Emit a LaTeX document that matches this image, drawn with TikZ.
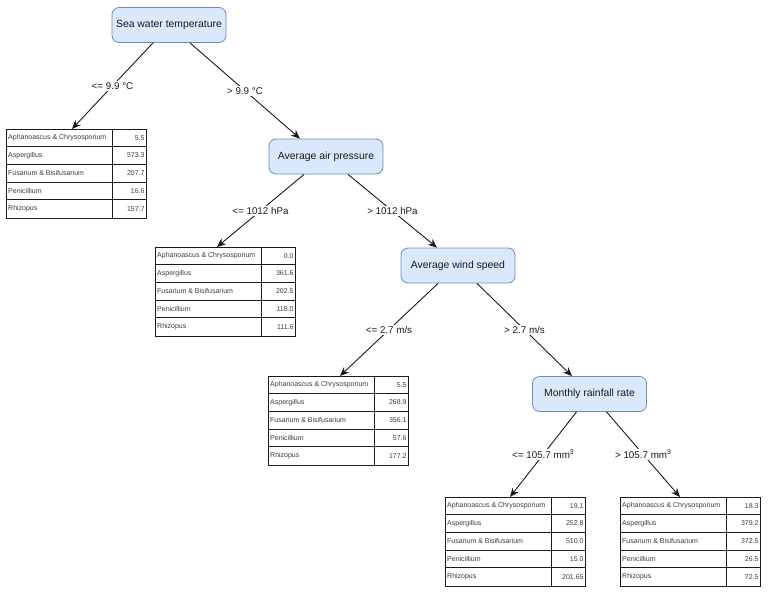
\documentclass[tikz,border=0pt]{standalone}
\usepackage{fontspec}
\setmainfont{Liberation Sans}
\usetikzlibrary{arrows.meta,calc}
\definecolor{boxfill}{HTML}{DAE8FC}
\definecolor{boxdraw}{HTML}{6C8EBF}
\definecolor{ink}{HTML}{1A1A1A}
\tikzset{
  decision/.style={draw=boxdraw, fill=boxfill, rounded corners=7pt, minimum width=114pt,
    minimum height=35pt, font=\fontsize{10.4}{12}\selectfont, text=ink, inner sep=0pt, line width=0.8pt},
  edge/.style={-{Stealth[length=9pt,width=7.5pt]}, line width=0.9pt, draw=ink},
  elabel/.style={fill=white, font=\fontsize{9.8}{11}\selectfont, text=ink, inner sep=1.5pt},
  tabframe/.style={draw=ink, line width=0.8pt, minimum width=140pt, minimum height=88.5pt,
    anchor=north west, inner sep=0pt},
  rule/.style={draw=ink, line width=0.8pt},
  celltext/.style={font=\fontsize{7}{8}\selectfont, text=ink!85, inner sep=0pt},
}
% #1 name, #2 x, #3 y, #4-#8 values
\newcommand\leaftab[8]{%
  \node[tabframe] (#1) at (#2,#3) {};
  \draw[rule] ($(#1.north west)+(106,0)$) -- ($(#1.south west)+(106,0)$);
  \foreach \k in {1,2,3,4}{\draw[rule] ($(#1.north west)+(0,17.7*\k)$) -- ($(#1.north east)+(0,17.7*\k)$);}
  \node[celltext, anchor=west] (#1-a) at ($(#1.north west)+(2,8.85)$) {Aphanoascus \& Chrysosporium};
  \node[celltext, anchor=west] (#1-b) at ($(#1.north west)+(2,26.55)$) {Aspergillus};
  \node[celltext, anchor=west] (#1-c) at ($(#1.north west)+(2,44.25)$) {Fusarium \& Bisifusarium};
  \node[celltext, anchor=west] (#1-d) at ($(#1.north west)+(2,61.95)$) {Penicillium};
  \node[celltext, anchor=west] (#1-e) at ($(#1.north west)+(2,79.65)$) {Rhizopus};
  \node[celltext, anchor=east] (#1-va) at ($(#1.north east)+(-2,8.85)$) {#4};
  \node[celltext, anchor=east] (#1-vb) at ($(#1.north east)+(-2,26.55)$) {#5};
  \node[celltext, anchor=east] (#1-vc) at ($(#1.north east)+(-2,44.25)$) {#6};
  \node[celltext, anchor=east] (#1-vd) at ($(#1.north east)+(-2,61.95)$) {#7};
  \node[celltext, anchor=east] (#1-ve) at ($(#1.north east)+(-2,79.65)$) {#8};
}
\begin{document}
\begin{tikzpicture}[x=1pt,y=-1pt]
\useasboundingbox[fill=white] (0,0) rectangle (768,594);

\node[decision] (n1) at (169,25) {Sea water temperature};
\node[decision] (n2) at (326,156.5) {Average air pressure};
\node[decision] (n3) at (458,265.5) {Average wind speed};
\node[decision] (n4) at (589.5,394) {Monthly rainfall rate};

\leaftab{t1}{6}{129}{5.5}{573.3}{207.7}{16.6}{157.7}
\leaftab{t2}{155}{247}{0.0}{361.6}{202.5}{118.0}{111.6}
\leaftab{t3}{268}{376}{5.5}{268.9}{356.1}{57.6}{177.2}
\leaftab{t4}{445}{497}{19.1}{252.8}{510.0}{15.0}{201.65}
\leaftab{t5}{620}{497}{18.3}{379.2}{372.5}{26.5}{72.5}

\draw[edge] ($(n1.south)+(-16,0)$) -- node[elabel] {<= 9.9 °C} ($(t1.north west)+(66,0)$);
\draw[edge] ($(n1.south)+(21,0)$) -- node[elabel] {> 9.9 °C} ($(n2.north)+(-26,0)$);
\draw[edge] ($(n2.south)+(-22,0)$) -- node[elabel] {<= 1012 hPa} ($(t2.north west)+(62,0)$);
\draw[edge] ($(n2.south)+(22,0)$) -- node[elabel] {> 1012 hPa} ($(n3.north)+(-21,0)$);
\draw[edge] ($(n3.south)+(-20,0)$) -- node[elabel] {<= 2.7 m/s} ($(t3.north west)+(72,0)$);
\draw[edge] ($(n3.south)+(19,0)$) -- node[elabel] {> 2.7 m/s} ($(n4.north)+(-17.5,0)$);
\draw[edge] ($(n4.south)+(-13,0)$) -- node[elabel] {<= 105.7 mm\textsuperscript{3}} ($(t4.north west)+(65,0)$);
\draw[edge] ($(n4.south)+(17,0)$) -- node[elabel] {> 105.7 mm\textsuperscript{3}} ($(t5.north west)+(60,0)$);
\end{tikzpicture}
\end{document}
